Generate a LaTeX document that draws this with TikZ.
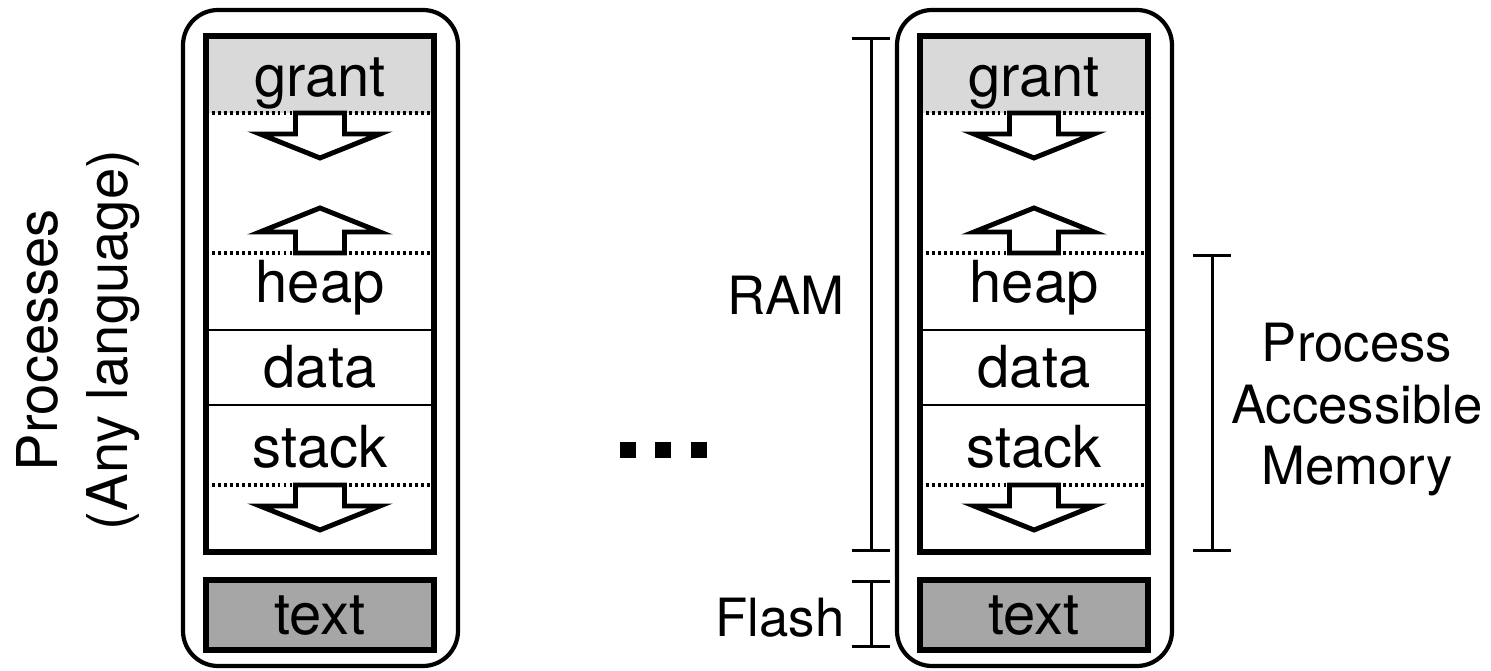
\documentclass[tikz,border=0pt]{standalone}
\usepackage{fontspec}
\setmainfont{TeX Gyre Heros}
\usetikzlibrary{positioning, arrows.meta}

\definecolor{grantgray}{gray}{0.85}
\definecolor{textgray}{gray}{0.65}

\tikzset{
    shell/.style={line width=2.4pt, rounded corners=20pt},
    memwall/.style={line width=3.4pt},
    seg/.style={line width=1.7pt},
    dotseg/.style={line width=1.8pt, dash pattern=on 1.6pt off 1.8pt},
    growarrow/.style={line width=2.8pt, fill=white, line join=miter},
    seglabel/.style={font=\fontsize{33}{38}\selectfont, anchor=base, inner sep=0pt},
    sidelabel/.style={font=\fontsize{30}{35}\selectfont, inner sep=0pt},
    bracket/.style={line width=1.7pt, {Bar[width=0.76cm]}-{Bar[width=0.76cm]}}
}

\begin{document}
\begin{tikzpicture}[x=0.02cm, y=-0.02cm]
    \useasboundingbox (0,0) rectangle (1491,671);

    % one memory layout per process
    \foreach \dx/\id in {0/a, 714/b} {
        \draw[shell] (183+\dx, 10) rectangle (458+\dx, 666);
        \fill[grantgray] (206+\dx, 36) rectangle (434+\dx, 113);
        \fill[textgray] (206+\dx, 580) rectangle (434+\dx, 650);
        \draw[dotseg] (206+\dx, 113) -- (434+\dx, 113);
        \draw[dotseg] (206+\dx, 253) -- (434+\dx, 253);
        \draw[dotseg] (206+\dx, 485) -- (434+\dx, 485);
        \draw[seg] (206+\dx, 330) -- (434+\dx, 330);
        \draw[seg] (206+\dx, 405) -- (434+\dx, 405);
        \draw[growarrow] (295.5+\dx, 113) -- ++(49,0) -- ++(0,21) -- ++(35.5,0) -- ++(-60,24) -- ++(-60,-24) -- ++(35.5,0) -- cycle;
        \draw[growarrow] (295.5+\dx, 253) -- ++(49,0) -- ++(0,-21) -- ++(35.5,0) -- ++(-60,-24) -- ++(-60,24) -- ++(35.5,0) -- cycle;
        \draw[growarrow] (295.5+\dx, 485) -- ++(49,0) -- ++(0,21) -- ++(35.5,0) -- ++(-60,24) -- ++(-60,-24) -- ++(35.5,0) -- cycle;
        \draw[memwall] (206+\dx, 36) rectangle (434+\dx, 552);
        \draw[memwall] (206+\dx, 580) rectangle (434+\dx, 650);
        \node[seglabel] (grant-\id) at (320+\dx, 97) {grant};
        \node[seglabel] (heap-\id) at (320+\dx, 303) {heap};
        \node[seglabel] (data-\id) at (320+\dx, 388) {data};
        \node[seglabel] (stack-\id) at (320+\dx, 468) {stack};
        \node[seglabel] (text-\id) at (320+\dx, 635) {text};
    }

    \node[rotate=90, align=center, inner sep=0pt, font=\fontsize{32}{40}\selectfont] (procs) at (78, 340) {Processes\\(Any language)};

    % more processes
    \foreach \x in {628, 663, 699}
        \fill (\x-8, 442) rectangle (\x+8, 458);

    \coordinate (ramtop) at (871, 37);
    \coordinate (rambot) at (871, 552);
    \coordinate (flashtop) at (871, 580);
    \coordinate (flashbot) at (871, 648);
    \coordinate (pamtop) at (1212, 254);
    \coordinate (pambot) at (1212, 552);
    \draw[bracket] (ramtop) -- (rambot);
    \draw[bracket] (flashtop) -- (flashbot);
    \draw[bracket] (pamtop) -- (pambot);

    \node[sidelabel, anchor=base east] (ramlbl) at (845, 315) {RAM};
    \node[sidelabel, anchor=base east] (flashlbl) at (845, 637) {Flash};
    \node[sidelabel, align=center] (pamlbl) at (1357, 410) {Process\\Accessible\\Memory};
\end{tikzpicture}
\end{document}
